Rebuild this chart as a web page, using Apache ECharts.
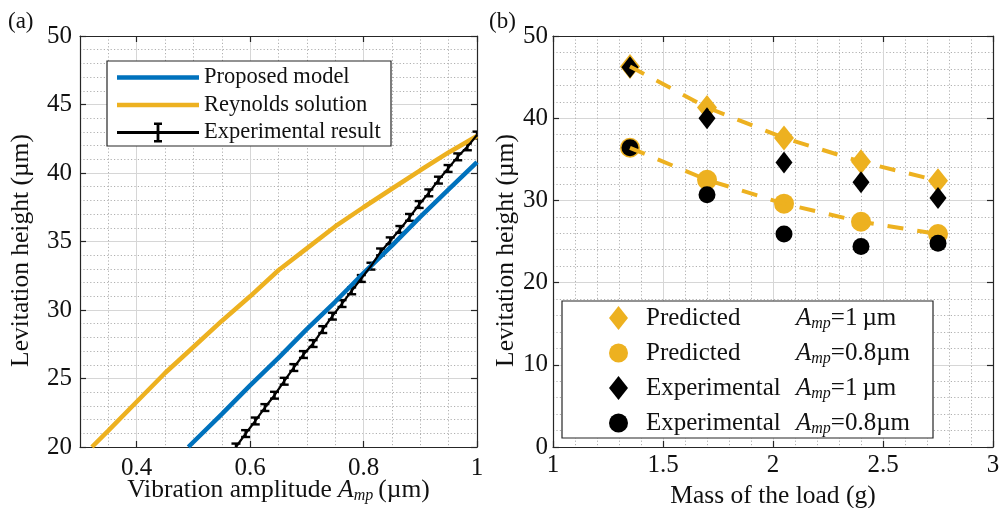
<!DOCTYPE html>
<html><head><meta charset="utf-8">
<script src="https://cdn.jsdelivr.net/npm/echarts@6/dist/echarts.min.js"></script>
<style>html,body{margin:0;padding:0;background:#fff}#c{width:999px;height:508px}</style>
</head><body><div id="c"></div>
<script>
// ---------- Panel (a) data ----------
const proposedX = [0.491, 0.55, 0.6, 0.65, 0.7, 0.75, 0.8, 0.85, 0.9, 0.95, 1.0];
const proposedY = [20, 22.4, 24.5, 26.5, 28.6, 30.6, 32.7, 34.7, 36.8, 38.8, 40.8];
const reynoldsX = [0.321, 0.35, 0.4, 0.45, 0.5, 0.55, 0.6, 0.65, 0.7, 0.75, 0.8, 0.85, 0.9, 0.95, 1.0];
const reynoldsY = [20, 21.2, 23.3, 25.4, 27.3, 29.2, 31.0, 32.9, 34.5, 36.1, 37.5, 38.85, 40.2, 41.5, 42.7];
const expX = [0.575, 0.592, 0.609, 0.626, 0.643, 0.660, 0.677, 0.694, 0.711, 0.728, 0.745, 0.762, 0.779,
              0.796, 0.813, 0.830, 0.847, 0.864, 0.881, 0.898, 0.915, 0.932, 0.949, 0.966, 0.983, 1.000];
const expY = [20.0, 20.98, 21.9, 22.88, 23.78, 24.8, 25.8, 26.75, 27.55, 28.57, 29.55, 30.47, 31.4,
              32.3, 33.2, 34.24, 35.05, 35.88, 36.76, 37.7, 38.55, 39.48, 40.33, 41.18, 41.91, 42.77];
const expErr = [0.25, 0.25, 0.25, 0.25, 0.25, 0.25, 0.25, 0.25, 0.25, 0.25, 0.25, 0.25, 0.25,
                0.25, 0.25, 0.25, 0.25, 0.25, 0.25, 0.25, 0.25, 0.25, 0.25, 0.25, 0.25, 0.25];
const ticksAX = [0.4, 0.6, 0.8, 1];
const legendA = ['Proposed model', 'Reynolds solution', 'Experimental result'];

// ---------- Panel (b) data ----------
const massX = [1.35, 1.7, 2.05, 2.4, 2.75];
const pred1 = [46.3, 41.3, 37.6, 34.7, 32.4];
const pred08 = [36.4, 32.5, 29.6, 27.4, 25.9];
const exp1 = [46.2, 40.0, 34.6, 32.2, 30.3];
const exp08 = [36.4, 30.7, 25.9, 24.4, 24.8];
const legendBNames = ['Predicted', 'Predicted', 'Experimental', 'Experimental'];
const legendBAmp = ['=1\u2009µm', '=0.8µm', '=1\u2009µm', '=0.8µm'];
const seriesB = ['pred1', 'pred08', 'exp1', 'exp08'];

const FONT = 'Liberation Serif';
const AX = '#262626';
const MAJ = '#d6d6d6';
const MIN = '#b0b0b0';
const DOT = [1.2, 2.2];
const BLUE = '#0072BD';
const ORANGE = '#EDB120';
const zip = (xs, ys) => xs.map((x, i) => [x, ys[i]]);

const boxLine = {show: true, onZero: false, lineStyle: {color: AX, width: 1.2}};
const tickIn = {show: true, inside: true, length: 6, lineStyle: {color: AX, width: 1.2}};
const lbl = (extra) => Object.assign({fontFamily: FONT, fontSize: 25, color: '#111'}, extra);
const nameStyle = {fontFamily: FONT, fontSize: 25.5, color: '#111'};
const ampRich = {
  i: {fontFamily: FONT, fontSize: 25.5, fontStyle: 'italic', lineHeight: 28, color: '#111'},
  s: {fontFamily: FONT, fontSize: 16, fontStyle: 'italic', lineHeight: 14, verticalAlign: 'bottom', color: '#111'}
};

const pathBlue = 'path://M0 0h0.01v0.01h-0.01Z M0 8.75H82V13.25H0Z M81.99 21.99h0.01v0.01h-0.01Z';
const pathErr = 'path://M0 0h0.01v0.01h-0.01Z M0 9.6H82V12.4H0Z M39.6 1H42.4V21H39.6Z M37 1H45V3.6H37Z M37 18.4H45V21H37Z M81.99 21.99h0.01v0.01h-0.01Z';

const chart = echarts.init(document.getElementById('c'), null, {renderer: 'canvas', width: 999, height: 508});

const option = {
  animation: false,
  backgroundColor: '#fff',
  grid: [
    {left: 80, top: 36, width: 397, height: 411, containLabel: false, outerBoundsMode: 'none'},
    {left: 553, top: 36, width: 440, height: 411, containLabel: false, outerBoundsMode: 'none'}
  ],
  xAxis: [
    { // 0: panel a bottom
      gridIndex: 0, type: 'value', position: 'bottom', min: 0.3, max: 1, interval: 0.1,
      axisLine: boxLine,
      axisTick: Object.assign({customValues: ticksAX}, tickIn),
      axisLabel: lbl({margin: 9, customValues: ticksAX,
        formatter: v => (ticksAX.some(t => Math.abs(t - v) < 1e-6) ? String(+(+v).toFixed(2)) : '')}),
      splitLine: {show: false},
      minorTick: {show: false, splitNumber: 2},
      minorSplitLine: {show: true, lineStyle: {color: MIN, type: DOT, width: 1}},
      name: 'Vibration amplitude {i|A}{s|mp}\u2009(µm)', nameLocation: 'middle', nameGap: 29,
      nameMoveOverlap: false,
      nameTextStyle: Object.assign({lineHeight: 28, rich: ampRich}, nameStyle)
    },
    { // 1: panel a top
      gridIndex: 0, type: 'value', position: 'top', min: 0.3, max: 1, interval: 0.1,
      axisLine: boxLine, axisTick: Object.assign({customValues: ticksAX}, tickIn),
      axisLabel: {show: false}, splitLine: {show: false}
    },
    { // 2: panel a major grid lines
      gridIndex: 0, type: 'value', position: 'bottom', min: 0.3, max: 1, interval: 0.1,
      axisLine: {show: false}, axisTick: {show: false}, axisLabel: {show: false},
      splitLine: {show: true, lineStyle: {color: ['rgba(0,0,0,0)', MAJ], width: 1}}
    },
    { // 3: panel a dotted lines at odd tenths
      gridIndex: 0, type: 'value', position: 'bottom', min: 0.3, max: 1, interval: 0.1,
      axisLine: {show: false}, axisTick: {show: false}, axisLabel: {show: false},
      splitLine: {show: true, lineStyle: {color: [MIN, 'rgba(0,0,0,0)'], type: DOT, width: 1}}
    },
    { // 4: panel b bottom
      gridIndex: 1, type: 'value', position: 'bottom', min: 1, max: 3, interval: 0.5,
      axisLine: boxLine, axisTick: tickIn,
      axisLabel: lbl({margin: 6}),
      splitLine: {show: true, lineStyle: {color: MAJ, width: 1}},
      minorTick: {show: false, splitNumber: 5},
      minorSplitLine: {show: true, lineStyle: {color: MIN, type: DOT, width: 1}},
      name: 'Mass of the load (g)', nameLocation: 'middle', nameGap: 35, nameMoveOverlap: false,
      nameTextStyle: Object.assign({lineHeight: 28}, nameStyle)
    },
    { // 5: panel b top
      gridIndex: 1, type: 'value', position: 'top', min: 1, max: 3, interval: 0.5,
      axisLine: boxLine, axisTick: tickIn, axisLabel: {show: false}, splitLine: {show: false}
    }
  ],
  yAxis: [
    { // 0: panel a left
      gridIndex: 0, type: 'value', position: 'left', min: 20, max: 50, interval: 5,
      axisLine: boxLine, axisTick: tickIn, axisLabel: lbl({margin: 8}),
      splitLine: {show: true, lineStyle: {color: MAJ, width: 1}},
      minorTick: {show: false, splitNumber: 5},
      minorSplitLine: {show: true, lineStyle: {color: MIN, type: DOT, width: 1}},
      name: 'Levitation height (µm)', nameLocation: 'middle', nameGap: 46,
      nameTextStyle: Object.assign({padding: [0, 18, 0, 0]}, nameStyle)
    },
    { // 1: panel a right
      gridIndex: 0, type: 'value', position: 'right', min: 20, max: 50, interval: 5,
      axisLine: boxLine, axisTick: tickIn, axisLabel: {show: false}, splitLine: {show: false}
    },
    { // 2: panel b left
      gridIndex: 1, type: 'value', position: 'left', min: 0, max: 50, interval: 10,
      axisLine: boxLine, axisTick: tickIn, axisLabel: lbl({margin: 5}),
      splitLine: {show: true, lineStyle: {color: MAJ, width: 1}},
      minorTick: {show: false, splitNumber: 5},
      minorSplitLine: {show: true, lineStyle: {color: MIN, type: DOT, width: 1}},
      name: 'Levitation height (µm)', nameLocation: 'middle', nameGap: 34,
      nameTextStyle: Object.assign({padding: [0, 18, 0, 0]}, nameStyle)
    },
    { // 3: panel b right
      gridIndex: 1, type: 'value', position: 'right', min: 0, max: 50, interval: 10,
      axisLine: boxLine, axisTick: tickIn, axisLabel: {show: false}, splitLine: {show: false}
    }
  ],
  legend: [
    {
      left: 117, top: 66, orient: 'vertical', padding: 0, itemWidth: 82, itemHeight: 22, itemGap: 4.5,
      selectedMode: false, symbolKeepAspect: false,
      textStyle: {fontFamily: FONT, fontSize: 22.5, color: '#111', lineHeight: 22},
      data: [
        {name: legendA[0], icon: pathBlue, itemStyle: {color: BLUE, borderWidth: 0}},
        {name: legendA[1], icon: pathBlue, itemStyle: {color: ORANGE, borderWidth: 0}},
        {name: legendA[2], icon: pathErr, itemStyle: {color: '#000', borderWidth: 0}}
      ]
    },
    {
      left: 609, top: 304, orient: 'vertical', padding: 0, itemWidth: 19, itemHeight: 24, itemGap: 7,
      selectedMode: false, symbolKeepAspect: false,
      formatter: name => {
        const i = seriesB.indexOf(name);
        return '{n|' + legendBNames[i] + '}{a|A}{s|mp}{t|' + legendBAmp[i] + '}';
      },
      textStyle: {
        fontFamily: FONT, fontSize: 25, color: '#111', lineHeight: 28,
        rich: {
          n: {fontFamily: FONT, fontSize: 25, width: 150, padding: [0, 0, 0, 13], lineHeight: 28, color: '#111'},
          a: {fontFamily: FONT, fontSize: 25, fontStyle: 'italic', lineHeight: 28, color: '#111'},
          s: {fontFamily: FONT, fontSize: 16, fontStyle: 'italic', lineHeight: 12, verticalAlign: 'bottom', color: '#111'},
          t: {fontFamily: FONT, fontSize: 25, lineHeight: 28, color: '#111'}
        }
      },
      data: [
        {name: seriesB[0], icon: 'diamond', itemStyle: {color: ORANGE, borderWidth: 0}},
        {name: seriesB[1], icon: 'circle', itemStyle: {color: ORANGE, borderWidth: 0}},
        {name: seriesB[2], icon: 'diamond', itemStyle: {color: '#000', borderWidth: 0}},
        {name: seriesB[3], icon: 'circle', itemStyle: {color: '#000', borderWidth: 0}}
      ]
    }
  ],
  graphic: [
    {type: 'rect', z: 3, shape: {x: 107, y: 61, width: 284, height: 85},
     style: {fill: '#fff', stroke: AX, lineWidth: 1.2}},
    {type: 'rect', z: 3, shape: {x: 562, y: 301, width: 371, height: 137},
     style: {fill: '#fff', stroke: AX, lineWidth: 1.2}},
    {type: 'text', z: 5, x: 8, y: 10,
     style: {text: '(a)', fontFamily: FONT, fontSize: 23, fill: '#111', align: 'left', verticalAlign: 'top'}},
    {type: 'text', z: 5, x: 489, y: 10,
     style: {text: '(b)', fontFamily: FONT, fontSize: 23, fill: '#111', align: 'left', verticalAlign: 'top'}}
  ],
  series: [
    {name: legendA[0], type: 'line', xAxisIndex: 0, yAxisIndex: 0, data: zip(proposedX, proposedY),
     showSymbol: false, symbol: 'none', lineStyle: {color: BLUE, width: 4.5}, itemStyle: {color: BLUE}, z: 2},
    {name: legendA[1], type: 'line', xAxisIndex: 0, yAxisIndex: 0, data: zip(reynoldsX, reynoldsY),
     showSymbol: false, symbol: 'none', lineStyle: {color: ORANGE, width: 4.5}, itemStyle: {color: ORANGE}, z: 2},
    {name: legendA[2], type: 'line', xAxisIndex: 0, yAxisIndex: 0, data: zip(expX, expY),
     showSymbol: false, symbol: 'none', lineStyle: {color: '#000', width: 2.2}, itemStyle: {color: '#000'}, z: 2},
    {name: legendA[2], type: 'custom', xAxisIndex: 0, yAxisIndex: 0, clip: true, z: 2,
     data: expX.map((x, i) => [x, expY[i], expErr[i]]),
     encode: {x: 0, y: 1},
     itemStyle: {color: '#000'},
     renderItem: (params, api) => {
       const x = api.value(0), y = api.value(1), e = api.value(2);
       const c = api.coord([x, y]);
       const hi = api.coord([x, y + e]);
       const lo = api.coord([x, y - e]);
       const w = 4.5;
       const st = {stroke: '#000', lineWidth: 2.4};
       return {type: 'group', children: [
         {type: 'line', shape: {x1: c[0], y1: hi[1], x2: c[0], y2: lo[1]}, style: st},
         {type: 'line', shape: {x1: c[0] - w, y1: hi[1], x2: c[0] + w, y2: hi[1]}, style: st},
         {type: 'line', shape: {x1: c[0] - w, y1: lo[1], x2: c[0] + w, y2: lo[1]}, style: st}
       ]};
     }},
    {name: seriesB[0], type: 'scatter', xAxisIndex: 4, yAxisIndex: 2, data: zip(massX, pred1),
     symbol: 'diamond', symbolSize: [20, 25], itemStyle: {color: ORANGE, opacity: 1}, z: 2},
    {name: seriesB[1], type: 'scatter', xAxisIndex: 4, yAxisIndex: 2, data: zip(massX, pred08),
     symbol: 'circle', symbolSize: 20, itemStyle: {color: ORANGE, opacity: 1}, z: 2},
    {name: seriesB[2], type: 'scatter', xAxisIndex: 4, yAxisIndex: 2, data: zip(massX, exp1),
     symbol: 'diamond', symbolSize: [17, 22], itemStyle: {color: '#000', opacity: 1}, z: 3},
    {name: seriesB[3], type: 'scatter', xAxisIndex: 4, yAxisIndex: 2, data: zip(massX, exp08),
     symbol: 'circle', symbolSize: 17, itemStyle: {color: '#000', opacity: 1}, z: 3},
    {name: 'pred1 trend', type: 'line', xAxisIndex: 4, yAxisIndex: 2, data: zip(massX, pred1),
     showSymbol: false, symbol: 'none', lineStyle: {color: ORANGE, width: 4, type: [16, 14]}, z: 4},
    {name: 'pred08 trend', type: 'line', xAxisIndex: 4, yAxisIndex: 2, data: zip(massX, pred08),
     showSymbol: false, symbol: 'none', lineStyle: {color: ORANGE, width: 4, type: [16, 14]}, z: 4}
  ]
};
chart.setOption(option);
</script></body></html>
